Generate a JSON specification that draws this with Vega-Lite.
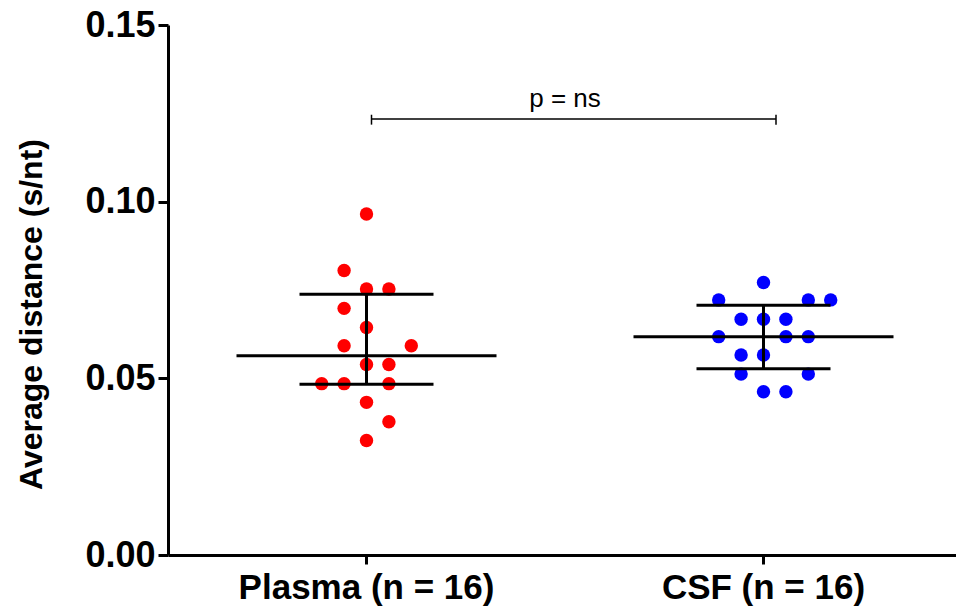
{
  "$schema": "https://vega.github.io/schema/vega-lite/v6.json",
  "autosize": "none",
  "width": 788,
  "height": 530,
  "padding": {"left": 168, "top": 25, "right": 0, "bottom": 52},
  "background": "white",
  "config": {
    "view": {"stroke": null},
    "axis": {"grid": false, "domainColor": "black", "tickColor": "black", "labelColor": "black", "titleColor": "black", "labelFont": "Liberation Sans", "titleFont": "Liberation Sans", "labelFontWeight": "bold", "titleFontWeight": "bold", "domainWidth": 3, "tickWidth": 3, "labelLimit": 0}
  },
  "datasets": {
    "points": [
      {"group": "Plasma (n = 16)", "slot": 0, "value": 0.0965},
      {"group": "Plasma (n = 16)", "slot": -1, "value": 0.0805},
      {"group": "Plasma (n = 16)", "slot": 0, "value": 0.0753},
      {"group": "Plasma (n = 16)", "slot": 1, "value": 0.0753},
      {"group": "Plasma (n = 16)", "slot": -1, "value": 0.0698},
      {"group": "Plasma (n = 16)", "slot": 0, "value": 0.0644},
      {"group": "Plasma (n = 16)", "slot": -1, "value": 0.0592},
      {"group": "Plasma (n = 16)", "slot": 2, "value": 0.0592},
      {"group": "Plasma (n = 16)", "slot": 0, "value": 0.0539},
      {"group": "Plasma (n = 16)", "slot": 1, "value": 0.0539},
      {"group": "Plasma (n = 16)", "slot": -2, "value": 0.0485},
      {"group": "Plasma (n = 16)", "slot": -1, "value": 0.0485},
      {"group": "Plasma (n = 16)", "slot": 1, "value": 0.0485},
      {"group": "Plasma (n = 16)", "slot": 0, "value": 0.0432},
      {"group": "Plasma (n = 16)", "slot": 1, "value": 0.0377},
      {"group": "Plasma (n = 16)", "slot": 0, "value": 0.0324},
      {"group": "CSF (n = 16)", "slot": 0, "value": 0.0771},
      {"group": "CSF (n = 16)", "slot": -2, "value": 0.0722},
      {"group": "CSF (n = 16)", "slot": 2, "value": 0.0722},
      {"group": "CSF (n = 16)", "slot": 3, "value": 0.0722},
      {"group": "CSF (n = 16)", "slot": -1, "value": 0.0667},
      {"group": "CSF (n = 16)", "slot": 0, "value": 0.0667},
      {"group": "CSF (n = 16)", "slot": 1, "value": 0.0667},
      {"group": "CSF (n = 16)", "slot": -2, "value": 0.0618},
      {"group": "CSF (n = 16)", "slot": 1, "value": 0.0618},
      {"group": "CSF (n = 16)", "slot": 2, "value": 0.0618},
      {"group": "CSF (n = 16)", "slot": -1, "value": 0.0566},
      {"group": "CSF (n = 16)", "slot": 0, "value": 0.0566},
      {"group": "CSF (n = 16)", "slot": -1, "value": 0.0512},
      {"group": "CSF (n = 16)", "slot": 2, "value": 0.0512},
      {"group": "CSF (n = 16)", "slot": 0, "value": 0.0462},
      {"group": "CSF (n = 16)", "slot": 1, "value": 0.0462}
    ],
    "stats": [
      {"group": "Plasma (n = 16)", "median": 0.0564, "q1": 0.0483, "q3": 0.0738},
      {"group": "CSF (n = 16)", "median": 0.0618, "q1": 0.0527, "q3": 0.0707}
    ],
    "bracket": [
      {"from": "Plasma (n = 16)", "to": "CSF (n = 16)", "y": 0.1234, "lo": 0.1218, "hi": 0.1246, "label": "p = ns", "ylab": 0.1268}
    ]
  },
  "layer": [
    {
      "data": {"name": "points"},
      "mark": {"type": "circle", "size": 180, "opacity": 1},
      "encoding": {
        "x": {"field": "group", "type": "nominal", "sort": ["Plasma (n = 16)", "CSF (n = 16)"],
          "scale": {"type": "band", "domain": ["Plasma (n = 16)", "CSF (n = 16)"], "range": [0, 794], "paddingInner": 0, "paddingOuter": 0},
          "title": null,
          "axis": {"labelAngle": 0, "labelFontSize": 35, "tickSize": 9, "labelPadding": 6}},
        "xOffset": {"field": "slot", "type": "quantitative", "scale": {"domain": [-8.86, 8.86], "range": [0, 397]}},
        "y": {"field": "value", "type": "quantitative", "title": "Average distance (s/nt)",
          "scale": {"domain": [0, 0.15], "nice": false, "zero": true},
          "axis": {"values": [0, 0.05, 0.1, 0.15], "format": ".2f", "labelFontSize": 36, "tickSize": 10, "labelPadding": 3, "titleFontSize": 32, "titleX": -137, "titleY": 289, "titleBaseline": "middle", "titleAlign": "center", "titleAngle": 270}},
        "color": {"field": "group", "type": "nominal", "scale": {"domain": ["Plasma (n = 16)", "CSF (n = 16)"], "range": ["#ff0000", "#0000ff"]}, "legend": null}
      }
    },
    {
      "data": {"name": "stats"},
      "mark": {"type": "rule", "color": "black", "strokeWidth": 3},
      "encoding": {
        "x": {"field": "group", "type": "nominal", "title": null},
        "y": {"field": "q1", "type": "quantitative", "title": "Average distance (s/nt)"},
        "y2": {"field": "q3"}
      }
    },
    {
      "data": {"name": "stats"},
      "mark": {"type": "tick", "color": "black", "thickness": 3, "size": 260, "orient": "horizontal", "opacity": 1},
      "encoding": {
        "x": {"field": "group", "type": "nominal", "title": null},
        "y": {"field": "median", "type": "quantitative", "title": "Average distance (s/nt)"}
      }
    },
    {
      "data": {"name": "stats"},
      "mark": {"type": "tick", "color": "black", "thickness": 3, "size": 134, "orient": "horizontal", "opacity": 1},
      "encoding": {
        "x": {"field": "group", "type": "nominal", "title": null},
        "y": {"field": "q1", "type": "quantitative", "title": "Average distance (s/nt)"}
      }
    },
    {
      "data": {"name": "stats"},
      "mark": {"type": "tick", "color": "black", "thickness": 3, "size": 134, "orient": "horizontal", "opacity": 1},
      "encoding": {
        "x": {"field": "group", "type": "nominal", "title": null},
        "y": {"field": "q3", "type": "quantitative", "title": "Average distance (s/nt)"}
      }
    },
    {
      "data": {"name": "bracket"},
      "mark": {"type": "rule", "color": "black", "strokeWidth": 1.5, "xOffset": 5, "x2Offset": 12.5},
      "encoding": {
        "x": {"field": "from", "type": "nominal", "title": null},
        "x2": {"field": "to"},
        "y": {"field": "y", "type": "quantitative", "title": "Average distance (s/nt)"}
      }
    },
    {
      "data": {"name": "bracket"},
      "mark": {"type": "rule", "color": "black", "strokeWidth": 1.5, "xOffset": 5},
      "encoding": {
        "x": {"field": "from", "type": "nominal", "title": null},
        "y": {"field": "lo", "type": "quantitative", "title": "Average distance (s/nt)"},
        "y2": {"field": "hi"}
      }
    },
    {
      "data": {"name": "bracket"},
      "mark": {"type": "rule", "color": "black", "strokeWidth": 1.5, "xOffset": 12.5},
      "encoding": {
        "x": {"field": "to", "type": "nominal", "title": null},
        "y": {"field": "lo", "type": "quantitative", "title": "Average distance (s/nt)"},
        "y2": {"field": "hi"}
      }
    },
    {
      "data": {"name": "bracket"},
      "mark": {"type": "text", "font": "Liberation Sans", "fontSize": 26, "color": "black", "align": "center", "baseline": "alphabetic"},
      "encoding": {
        "x": {"field": "to", "type": "nominal", "bandPosition": 0, "title": null},
        "y": {"field": "ylab", "type": "quantitative", "title": "Average distance (s/nt)"},
        "text": {"field": "label"}
      }
    }
  ]
}
